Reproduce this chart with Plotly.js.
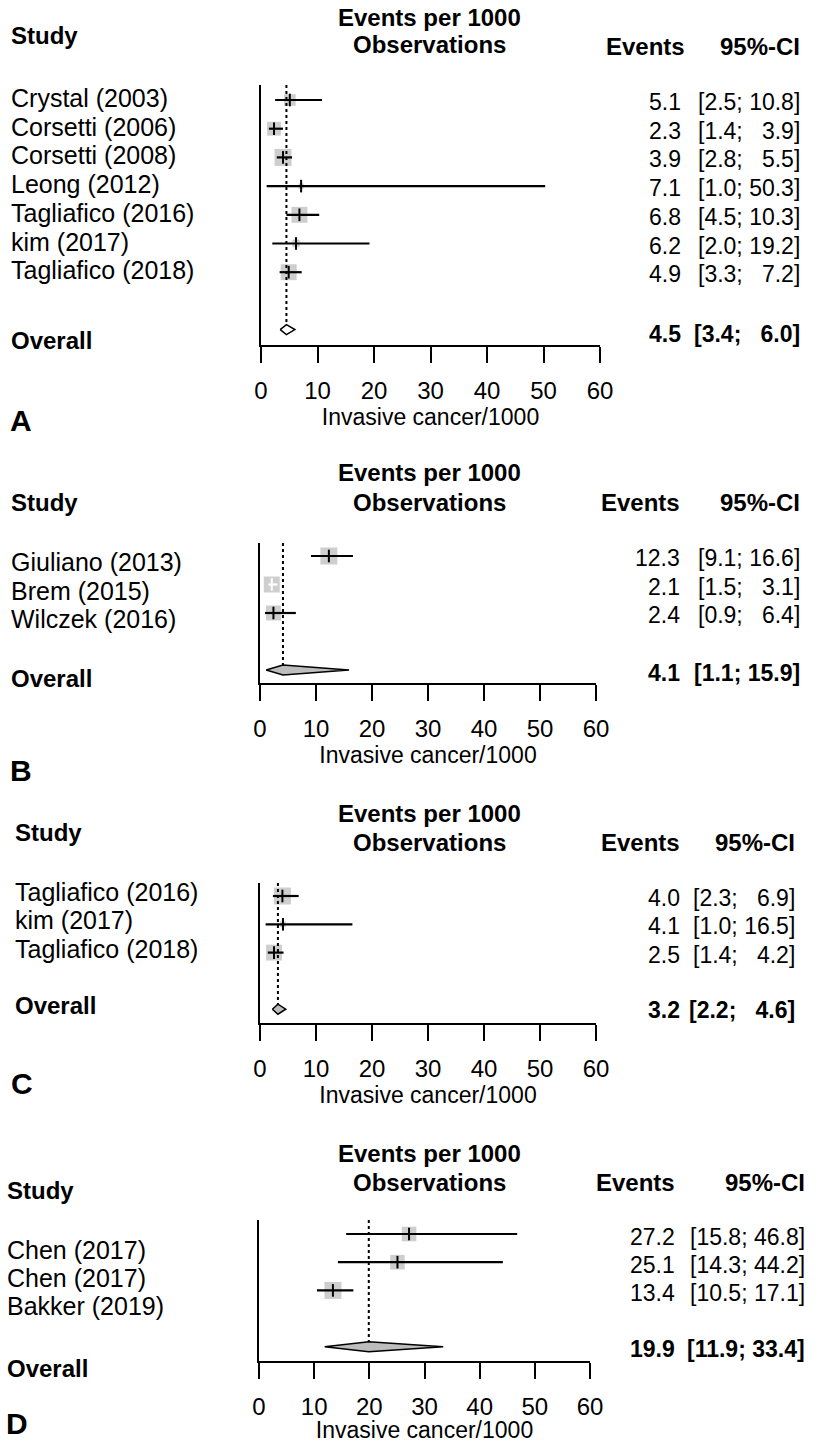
<!DOCTYPE html>
<html><head><meta charset="utf-8">
<script src="https://cdn.plot.ly/plotly-3.0.1.min.js"></script>
<style>html,body{margin:0;padding:0;background:#fff;} #chart{width:817px;height:1443px;}</style>
</head><body><div id="chart"></div>
<script>
// ---------- DATA ----------
// Panel A
const studiesA = ["Crystal (2003)", "Corsetti (2006)", "Corsetti (2008)", "Leong (2012)", "Tagliafico (2016)", "kim (2017)", "Tagliafico (2018)"];
const estA = [5.1, 2.3, 3.9, 7.1, 6.8, 6.2, 4.9];
const loA = [2.5, 1.4, 2.8, 1.0, 4.5, 2.0, 3.3];
const hiA = [10.8, 3.9, 5.5, 50.3, 10.3, 19.2, 7.2];
const weightA = [11.3, 15.8, 23.9, 2.3, 21.0, 4.6, 21.0];
const overallA = [4.5, 3.4, 6.0];
// Panel B
const studiesB = ["Giuliano (2013)", "Brem (2015)", "Wilczek (2016)"];
const estB = [12.3, 2.1, 2.4];
const loB = [9.1, 1.5, 0.9];
const hiB = [16.6, 3.1, 6.4];
const weightB = [37.8, 33.2, 29.0];
const overallB = [4.1, 1.1, 15.9];
// Panel C
const studiesC = ["Tagliafico (2016)", "kim (2017)", "Tagliafico (2018)"];
const estC = [4.0, 4.1, 2.5];
const loC = [2.3, 1.0, 1.4];
const hiC = [6.9, 16.5, 4.2];
const weightC = [50.4, 5.6, 44.0];
const overallC = [3.2, 2.2, 4.6];
// Panel D
const studiesD = ["Chen (2017)", "Chen (2017)", "Bakker (2019)"];
const estD = [27.2, 25.1, 13.4];
const loD = [15.8, 14.3, 10.5];
const hiD = [46.8, 44.2, 17.1];
const weightD = [29.8, 29.8, 40.5];
const overallD = [19.9, 11.9, 33.4];

const panelLetters = ["A", "B", "C", "D"];
const tickVals = [0, 10, 20, 30, 40, 50, 60];
const tickText = ["0", "10", "20", "30", "40", "50", "60"];
const xTitle = "Invasive cancer/1000";
const headStudy = "Study";
const headEvents1 = "Events per 1000";
const headEvents2 = "Observations";
const headEv = "Events";
const headCI = "95%-CI";
const overallLabel = "Overall";

// ---------- LAYOUT GEOMETRY (pixels) ----------
const W = 817, H = 1443, MB = 20;
const HP = H - MB;
const FONT = "Liberation Sans, Arial, Helvetica, sans-serif";
const geo = [
  {x0:261, x1:600, top:85,   bottom:345,  r0:100,  s:28.7, labX:9,  hEP:17,   hObs:45,   hStudy:36,   hEv:47,   evR:683, ciR:802, hEvR:687, hCiR:802, letX:8, letY:420,  dLab:-2, dLabO:11, dNum:2, dNumO:4, fill:"#ffffff"},
  {x0:260, x1:596, top:543,  bottom:683,  r0:556,  s:28.5, labX:9,  hEP:473,  hObs:502,  hStudy:502,  hEv:502,  evR:682, ciR:802, hEvR:682, hCiR:802, letX:8, letY:770,  dLab:6,  dLabO:8,  dNum:2, dNumO:3, fill:"#bdbdbd"},
  {x0:260, x1:596, top:883,  bottom:1023, r0:896,  s:28.3, labX:13, hEP:813,  hObs:842,  hStudy:833,  hEv:842,  evR:682, ciR:797, hEvR:682, hCiR:797, letX:9, letY:1083, dLab:-4, dLabO:-4, dNum:2, dNumO:1, fill:"#bdbdbd"},
  {x0:259, x1:590, top:1220, bottom:1361, r0:1234, s:28.2, labX:5,  hEP:1153, hObs:1182, hStudy:1190, hEv:1182, evR:677, ciR:807, hEvR:677, hCiR:807, letX:4, letY:1423, dLab:16, dLabO:22, dNum:3, dNumO:2, fill:"#bdbdbd"}
];
const BOXMAX = 17;
const BOXCOL = "#b9b9b9";

const panels = [
  {studies:studiesA, est:estA, lo:loA, hi:hiA, w:weightA, ov:overallA},
  {studies:studiesB, est:estB, lo:loB, hi:hiB, w:weightB, ov:overallB},
  {studies:studiesC, est:estC, lo:loC, hi:hiC, w:weightC, ov:overallC},
  {studies:studiesD, est:estD, lo:loD, hi:hiD, w:weightD, ov:overallD}
];

const px = v => v / W;
const py = v => 1 - v / HP;
const NB = "\u00A0";

function fmtCI(lo, hi, allLo, allHi) {
  const padLo = (lo < 10 && allLo.some(v => v >= 10)) ? NB + NB : "";
  const padHi = (hi < 10 && allHi.some(v => v >= 10)) ? NB + NB : "";
  return "[" + padLo + lo.toFixed(1) + ";" + NB + padHi + hi.toFixed(1) + "]";
}

const data = [];
const annotations = [];
const layout = {
  width: W, height: H,
  margin: {l:0, r:0, t:0, b:MB},
  paper_bgcolor: "#fff", plot_bgcolor: "#fff",
  showlegend: false, hovermode: false,
  font: {family: FONT, color: "#000", size: 24},
  annotations: annotations
};

panels.forEach((p, k) => {
  const g = geo[k];
  const xa = k === 0 ? "x" : "x" + (k + 1);
  const ya = k === 0 ? "y" : "y" + (k + 1);
  const xk = k === 0 ? "xaxis" : "xaxis" + (k + 1);
  const yk = k === 0 ? "yaxis" : "yaxis" + (k + 1);
  const n = p.studies.length;
  const ovRow = n + 1;
  const yTop = -(g.top - g.r0) / g.s;
  const yBot = -(g.bottom - g.r0) / g.s;
  const pxPerUnit = (g.x1 - g.x0) / 60;
  const maxW = Math.max(...p.w);
  const sizes = p.w.map(w => BOXMAX * Math.sqrt(w / maxW));
  const rows = p.studies.map((_, i) => -i);
  const inside = p.lo.map((lo, i) => (p.hi[i] - lo) * pxPerUnit < sizes[i] - 3);
  const dh = 5 / g.s;

  layout[xk] = {
    domain: [px(g.x0), px(g.x1)], range: [0, 60], anchor: ya,
    tickvals: tickVals, ticktext: tickText, ticks: "outside", ticklen: 16, tickwidth: 2, tickcolor: "#000",
    showline: true, linewidth: 2, linecolor: "#000", showgrid: false, zeroline: false,
    tickfont: {size: 24, family: FONT, color: "#000"}, ticklabelstandoff: 7,
    title: {text: xTitle, font: {size: 23, family: FONT, color: "#000"}, standoff: 6},
    fixedrange: true
  };
  layout[yk] = {
    domain: [py(g.bottom), py(g.top)], range: [yBot, yTop], anchor: xa,
    showline: true, linewidth: 2, linecolor: "#000", showgrid: false, zeroline: false,
    showticklabels: false, ticks: "", fixedrange: true
  };

  // boxes
  data.push({type:"scatter", mode:"markers", xaxis:xa, yaxis:ya, x:p.est, y:rows,
    marker:{symbol:"square", size:sizes, color:BOXCOL, line:{width:0}}});
  // pooled dotted line
  data.push({type:"scatter", mode:"lines", xaxis:xa, yaxis:ya, x:[p.ov[0], p.ov[0]], y:[yTop, -ovRow + dh],
    line:{color:"#000", width:2, dash:"dot"}});
  // CI lines (black / white when inside box)
  [false, true].forEach(ins => {
    const xs = [], ys = [];
    p.lo.forEach((lo, i) => { if (inside[i] === ins) { xs.push(lo, p.hi[i], null); ys.push(-i, -i, null); } });
    if (xs.length) data.push({type:"scatter", mode:"lines", xaxis:xa, yaxis:ya, x:xs, y:ys,
      line:{color: ins ? "#ffffff" : "#000", width:2.2}});
    const ex = [], ey = [];
    p.est.forEach((e, i) => { if (inside[i] === ins) { ex.push(e); ey.push(-i); } });
    if (ex.length) data.push({type:"scatter", mode:"markers", xaxis:xa, yaxis:ya, x:ex, y:ey,
      marker:{symbol:"line-ns", size:9, color: ins ? "#fff" : "#000", line:{width:2, color: ins ? "#fff" : "#000"}}});
  });
  // overall diamond
  data.push({type:"scatter", mode:"lines", xaxis:xa, yaxis:ya,
    x:[p.ov[1], p.ov[0], p.ov[2], p.ov[0], p.ov[1]],
    y:[-ovRow, -ovRow + dh, -ovRow, -ovRow - dh, -ovRow],
    fill:"toself", fillcolor:g.fill, line:{color:"#000", width:1.5}});

  // headers
  const hb = {size:24, family:FONT, color:"#000"};
  annotations.push({xref:"paper", yref:"paper", x:px(g.labX), y:py(g.hStudy), xanchor:"left", yanchor:"middle", text:"<b>"+headStudy+"</b>", showarrow:false, font:hb});
  annotations.push({xref:"paper", yref:"paper", x:px(429), y:py(g.hEP), xanchor:"center", yanchor:"middle", text:"<b>"+headEvents1+"</b>", showarrow:false, font:hb});
  annotations.push({xref:"paper", yref:"paper", x:px(429), y:py(g.hObs), xanchor:"center", yanchor:"middle", text:"<b>"+headEvents2+"</b>", showarrow:false, font:hb});
  annotations.push({xref:"paper", yref:"paper", x:px(g.hEvR), y:py(g.hEv), xanchor:"right", yanchor:"middle", text:"<b>"+headEv+"</b>", showarrow:false, font:hb});
  annotations.push({xref:"paper", yref:"paper", x:px(g.hCiR), y:py(g.hEv), xanchor:"right", yanchor:"middle", text:"<b>"+headCI+"</b>", showarrow:false, font:hb});
  // panel letter
  annotations.push({xref:"paper", yref:"paper", x:px(g.letX), y:py(g.letY), xanchor:"left", yanchor:"middle", text:"<b>"+panelLetters[k]+"</b>", showarrow:false, font:{size:30, family:FONT, color:"#000"}});

  // study rows
  const fr = {size:25, family:FONT, color:"#000"};
  const fn = {size:23, family:FONT, color:"#000"};
  p.studies.forEach((st, i) => {
    annotations.push({xref:"paper", yref:ya, x:px(g.labX), y:-i, yshift:-g.dLab, xanchor:"left", yanchor:"middle", text:st, showarrow:false, font:fr});
    annotations.push({xref:"paper", yref:ya, x:px(g.evR), y:-i, yshift:-g.dNum, xanchor:"right", yanchor:"middle", text:p.est[i].toFixed(1), showarrow:false, font:fn});
    annotations.push({xref:"paper", yref:ya, x:px(g.ciR), y:-i, yshift:-g.dNum, xanchor:"right", yanchor:"middle", text:fmtCI(p.lo[i], p.hi[i], p.lo, p.hi), showarrow:false, font:fn});
  });
  // overall row
  annotations.push({xref:"paper", yref:ya, x:px(g.labX), y:-ovRow, yshift:-g.dLabO, xanchor:"left", yanchor:"middle", text:"<b>"+overallLabel+"</b>", showarrow:false, font:{size:24, family:FONT, color:"#000"}});
  annotations.push({xref:"paper", yref:ya, x:px(g.evR), y:-ovRow, yshift:-g.dNumO, xanchor:"right", yanchor:"middle", text:"<b>"+p.ov[0].toFixed(1)+"</b>", showarrow:false, font:fn});
  annotations.push({xref:"paper", yref:ya, x:px(g.ciR), y:-ovRow, yshift:-g.dNumO, xanchor:"right", yanchor:"middle", text:"<b>"+fmtCI(p.ov[1], p.ov[2], [p.ov[1]], [p.ov[2]].concat(p.hi))+"</b>", showarrow:false, font:fn});
});

Plotly.newPlot("chart", data, layout, {staticPlot:true, displayModeBar:false});
</script>
</body></html>
